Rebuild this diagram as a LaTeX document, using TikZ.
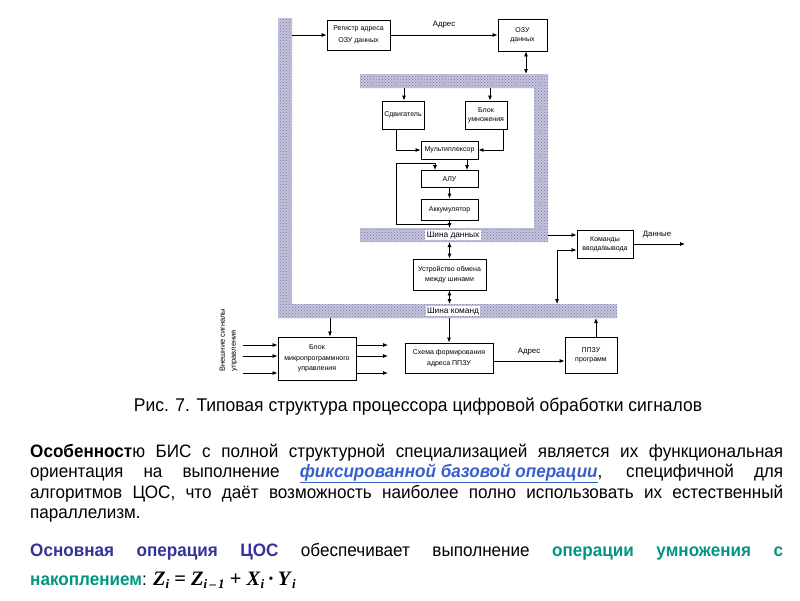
\documentclass[tikz,border=0pt]{standalone}
\usepackage{fontspec}
\setmainfont{Liberation Sans}
\newfontfamily\narrowfont{Liberation Sans}[FakeStretch=0.95]
\newfontfamily\tmsfont{Liberation Serif}
\usetikzlibrary{arrows.meta,patterns}
\definecolor{dblue}{RGB}{51,51,153}
\definecolor{tealc}{RGB}{0,150,130}
\definecolor{lnk}{RGB}{55,95,205}
\definecolor{busc}{RGB}{196,196,220}
\definecolor{busd}{RGB}{120,120,170}
\newcommand\msub[1]{\raisebox{-0.4ex}{\fontsize{13}{13}\selectfont\textbf{\textit{#1}}}}
\tikzset{
  box/.style={draw, line width=0.9pt, fill=white, align=center, inner sep=0pt,
              font=\fontsize{7}{9}\selectfont},
  arr/.style={line width=0.8pt, -{Latex[length=5pt,width=4pt]}},
  darr/.style={line width=0.8pt, {Latex[length=5pt,width=4pt]}-{Latex[length=5pt,width=4pt]}},
  bus/.style={fill=busc, draw=none},
  busdots/.style={pattern=crosshatch dots, pattern color=busd, draw=none},
  buslabel/.style={fill=white, inner sep=1.5pt, font=\fontsize{8.3}{9}\selectfont},
  lbl/.style={inner sep=0pt, font=\fontsize{7.8}{9}\selectfont},
  para/.style={text width=753pt, align=justify, inner sep=0pt,
               font=\narrowfont\fontsize{18}{20.5}\selectfont},
}
\begin{document}
\begin{tikzpicture}[x=1pt,y=-1pt]
\useasboundingbox (0,0) rectangle (800,600);
\fill[white] (0,0) rectangle (800,600);

% buses
\foreach \s in {bus,busdots}{
  \path[\s] (278,18) -- (292,18) -- (292,304) -- (617,304) -- (617,318) -- (278,318) -- cycle;
  \path[\s] (360,74) -- (548,74) -- (548,242) -- (360,242) -- (360,228) -- (534,228) -- (534,88) -- (360,88) -- cycle;
}
\node[buslabel] (shd) at (453,235) {Шина данных};
\node[buslabel] (shk) at (453,311) {Шина команд};

% boxes
\node[box, minimum width=63pt, minimum height=30pt] (reg) at (358.5,35) {Регистр адреса\\[3pt]ОЗУ данных};
\node[box, minimum width=49pt, minimum height=32pt] (ozu) at (522.5,35) {ОЗУ\\данных};
\node[box, minimum width=42pt, minimum height=28pt] (sdv) at (403,115) {Сдвигатель};
\node[box, minimum width=42pt, minimum height=28pt] (mul) at (486,115) {Блок\\умножения};
\node[box, minimum width=57pt, minimum height=18pt] (mux) at (449.5,150) {Мультиплексор};
\node[box, minimum width=57pt, minimum height=17pt] (alu) at (449.5,179) {АЛУ};
\node[box, minimum width=57pt, minimum height=21pt] (acc) at (449.5,209.5) {Аккумулятор};
\node[box, minimum width=73pt, minimum height=31pt] (ust) at (449.5,274.5) {Устройство обмена\\[1pt]между шинами};
\node[box, minimum width=56pt, minimum height=28pt] (kom) at (605,244) {Команды\\ввода/вывода};
\node[box, minimum width=78pt, minimum height=43pt] (bmu) at (317,358.5) {Блок\\[1.5pt]микропрограммного\\[1.5pt]управления};
\node[box, minimum width=88pt, minimum height=30pt] (sch) at (449,358) {Схема формирования\\[1.5pt]адреса ППЗУ};
\node[box, minimum width=52pt, minimum height=36pt] (ppzu) at (591,355) {ППЗУ\\программ};

% bus connection points
\coordinate (bL) at (292,35);
\coordinate (bOzu) at (526,74);
\coordinate (bSdv) at (404,88);
\coordinate (bMul) at (490,88);
\coordinate (bAcc) at (449.5,228);
\coordinate (bUstT) at (449.5,242);
\coordinate (bUstB) at (449.5,304);
\coordinate (bKomIn) at (548,235);
\coordinate (bKomOut) at (557,304);
\coordinate (bBmu) at (330,318);
\coordinate (bSch) at (449,318);
\coordinate (bPpzu) at (596,318);
\coordinate (dat) at (685,244);

% connectors
\draw[arr] (bL) -- (reg.west |- bL);
\draw[arr] (reg.east) -- node[lbl, above=6pt] (adr1) {Адрес} (ozu.west);
\draw[darr] (ozu.south -| bOzu) -- (bOzu);
\draw[arr] (bSdv) -- (sdv.north -| bSdv);
\draw[arr] (bMul) -- (mul.north -| bMul);
\draw[arr] (sdv.south -| 396,0) -- (396,150) -- (mux.west);
\draw[arr] (mul.south -| 503,0) -- (503,150) -- (mux.east);
\draw[arr] (mux.south -| 467,0) -- (alu.north -| 467,0);
\draw[arr] (alu.south -| 449.5,0) -- (acc.north);
\draw[arr] (acc.south) -- (bAcc);
\draw[arr] (449.5,224) -- (396,224) -- (396,163) -- (435,163) -- (alu.north -| 435,0);
\draw[darr] (bUstT) -- (ust.north);
\draw[darr] (ust.south) -- (bUstB);
\draw[arr] (bKomIn) -- (kom.west |- bKomIn);
\draw[arr] (kom.east) -- (dat);
\node[lbl, anchor=south] (datl) at (657,238) {Данные};
\draw[darr] (kom.west |- 0,250) -- (557,250) -- (bKomOut);
\draw[arr] (bBmu) -- (bmu.north -| bBmu);
\draw[arr] (bSch) -- (sch.north);
\draw[arr] (ppzu.north -| bPpzu) -- (bPpzu);
\draw[arr] (sch.east |- 0,361) -- node[lbl, above=5pt] (adr2) {Адрес} (ppzu.west |- 0,361);
\foreach \y/\n in {345/a,356/b,373/c}{
  \coordinate (in\n) at (243,\y);
  \coordinate (out\n) at (388,\y);
  \draw[arr] (in\n) -- (bmu.west |- in\n);
  \draw[arr] (bmu.east |- out\n) -- (out\n);
}
\node[rotate=90, align=left, inner sep=0pt, font=\fontsize{7.5}{11}\selectfont] (ext) at (228.5,340) {Внешние сигналы\\управления};

% caption
\node[inner sep=0pt, font=\narrowfont\fontsize{18.4}{20}\selectfont] (cap) at (418,407) {Рис. 7. Типовая структура процессора цифровой обработки сигналов};

% paragraphs
\node[para, anchor=base west] (p1) at (30,457) {\textbf{Особенност}ю БИС с полной структурной специализацией является их функциональная\linebreak ориентация на выполнение {\color{lnk}\underline{\textbf{\textit{фиксированной базовой операции}}}}, специфичной для\linebreak алгоритмов ЦОС, что даёт возможность наиболее полно использовать их естественный\linebreak параллелизм.};
\node[para, anchor=base west, font=\narrowfont\fontsize{18}{29}\selectfont] (p2) at (30,556) {{\color{dblue}\textbf{Основная операция ЦОС}} обеспечивает выполнение {\color{tealc}\textbf{операции умножения с}}\linebreak {\color{tealc}\textbf{накоплением}}: {\tmsfont\fontsize{20.5}{20}\selectfont\textbf{\textit{Z}}\msub{i} \textbf{=} \textbf{\textit{Z}}\msub{i\,–\,1} \textbf{+} \textbf{\textit{X}}\msub{i}\,\textbf{·}\,\textbf{\textit{Y}}\msub{i}}};
\end{tikzpicture}
\end{document}
